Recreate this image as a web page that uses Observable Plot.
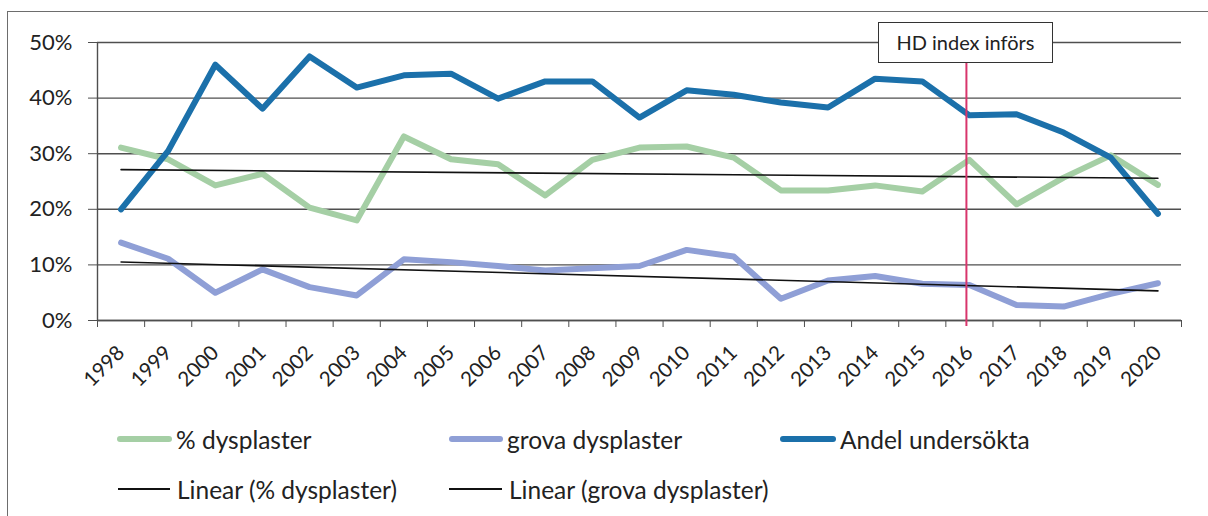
<!DOCTYPE html>
<html><head><meta charset="utf-8">
<script src="https://cdn.jsdelivr.net/npm/d3@7"></script>
<script src="https://cdn.jsdelivr.net/npm/@observablehq/plot@0.6"></script>
<style>
body{margin:0;background:#fff;font-family:Lato,"Open Sans",sans-serif;color:#222;}
#wrap{position:relative;width:1208px;height:516px;overflow:hidden;background:#fff;}
#frame{position:absolute;left:7px;top:11px;width:1220px;height:520px;border-top:1.5px solid #6d6d6d;border-left:1.5px solid #6d6d6d;}
#chart{position:absolute;left:0;top:0;}
#note{position:absolute;top:22px;height:39px;width:173px;border:1.5px solid #333;background:#fff;font-size:20px;line-height:39px;text-align:center;color:#222;}
.leg{position:absolute;display:flex;align-items:center;font-size:24.5px;color:#222;white-space:nowrap;height:30px;}
.sw{display:inline-block;border-radius:3px;margin-right:4px;}
</style>
</head><body>
<div id="wrap">
  <div id="frame"></div>
  <div id="chart"></div>
  <div id="note">HD index införs</div>
  <div id="legend"></div>
</div>
<script>
const years = [1998,1999,2000,2001,2002,2003,2004,2005,2006,2007,2008,2009,2010,2011,2012,2013,2014,2015,2016,2017,2018,2019,2020];
const pctDysplaster = [31.1,29.0,24.3,26.4,20.3,18.0,33.1,29.0,28.1,22.5,28.9,31.1,31.3,29.3,23.4,23.4,24.3,23.2,28.9,20.9,25.7,29.7,24.4];
const grovaDysplaster = [14.0,11.1,5.0,9.2,6.0,4.5,11.0,10.5,9.8,9.0,9.4,9.8,12.7,11.5,3.9,7.2,8.0,6.6,6.4,2.8,2.5,4.8,6.7];
const andelUndersokta = [20.0,30.5,46.0,38.1,47.5,41.9,44.1,44.4,39.9,43.0,43.0,36.5,41.4,40.6,39.2,38.3,43.5,43.0,36.9,37.1,33.8,29.3,19.2];
const yTicks = [0,10,20,30,40,50];
const seriesNames = ["% dysplaster","grova dysplaster","Andel undersökta"];
const trendNames = ["Linear (% dysplaster)","Linear (grova dysplaster)"];
const colors = {"% dysplaster":"#a5cfa5","grova dysplaster":"#8f9fd6","Andel undersökta":"#1b70aa"};
const noteYear = 2016;
const noteText = "HD index införs";

const rows = (vals) => years.map((y,i)=>({year:y, value:vals[i]}));
const green = rows(pctDysplaster), purple = rows(grovaDysplaster), blue = rows(andelUndersokta);
const bounds = d3.range(years[0]-0.5, years[years.length-1]+1, 1);
const grid = "#4f4f4f";

const chart = Plot.plot({
  width:1208, height:400,
  marginLeft:97, marginRight:27, marginTop:42, marginBottom:80,
  x:{domain:[years[0]-0.5, years[years.length-1]+0.5], label:null},
  y:{domain:[0,50], label:null},
  style:{fontFamily:"Lato, 'Open Sans', sans-serif", color:"#222", background:"transparent"},
  marks:[
    Plot.gridY(yTicks,{stroke:grid, strokeOpacity:1, strokeWidth:1.4}),
    Plot.axisY(yTicks,{tickSize:9, tickPadding:16, tickFormat:d=>d+"%", fontSize:22, stroke:grid, label:null}),
    Plot.ruleX([bounds[0]],{stroke:grid, strokeWidth:1.4}),
    Plot.axisX(bounds,{tickSize:7, tickFormat:()=>"", stroke:grid, label:null}),
    Plot.axisX(years,{tickSize:0, tickRotate:-45, tickPadding:29, fontSize:20.5, label:null, tickFormat:d=>String(d)}),
    Plot.ruleY([0],{stroke:grid, strokeWidth:1.4}),
    Plot.line(green,{x:"year", y:"value", stroke:colors["% dysplaster"], strokeWidth:6, strokeLinejoin:"round", strokeLinecap:"round"}),
    Plot.line(purple,{x:"year", y:"value", stroke:colors["grova dysplaster"], strokeWidth:6, strokeLinejoin:"round", strokeLinecap:"round"}),
    Plot.line(blue,{x:"year", y:"value", stroke:colors["Andel undersökta"], strokeWidth:6, strokeLinejoin:"round", strokeLinecap:"round"}),
    Plot.linearRegressionY(green,{x:"year", y:"value", stroke:"#111", strokeWidth:1.6, ci:0}),
    Plot.linearRegressionY(purple,{x:"year", y:"value", stroke:"#111", strokeWidth:1.6, ci:0}),
    Plot.ruleX([noteYear],{stroke:"#d8356c", strokeWidth:2, dx:-3, insetBottom:-6})
  ]
});
document.getElementById("chart").appendChild(chart);

const xs = chart.scale("x");
const note = document.getElementById("note");
note.textContent = noteText;
note.style.left = (xs.apply(noteYear) - 3 - 88) + "px";

const legend = document.getElementById("legend");
const items = [
  {name:seriesNames[0], color:colors[seriesNames[0]], w:55, h:6, left:117, top:424},
  {name:seriesNames[1], color:colors[seriesNames[1]], w:54, h:6, left:449, top:424},
  {name:seriesNames[2], color:colors[seriesNames[2]], w:56, h:6, left:780, top:424},
  {name:trendNames[0], color:"#111", w:52, h:1.6, left:118, top:474},
  {name:trendNames[1], color:"#111", w:53, h:1.6, left:449, top:474}
];
for (const it of items) {
  const d = document.createElement("div");
  d.className = "leg";
  d.style.left = it.left + "px"; d.style.top = it.top + "px";
  const s = document.createElement("span");
  s.className = "sw";
  s.style.width = it.w + "px"; s.style.height = it.h + "px"; s.style.background = it.color;
  if (it.h < 3) { s.style.borderRadius = "0"; s.style.marginRight = "7px"; }
  d.appendChild(s);
  const t = document.createElement("span");
  t.textContent = it.name;
  d.appendChild(t);
  legend.appendChild(d);
}
</script>
</body></html>
